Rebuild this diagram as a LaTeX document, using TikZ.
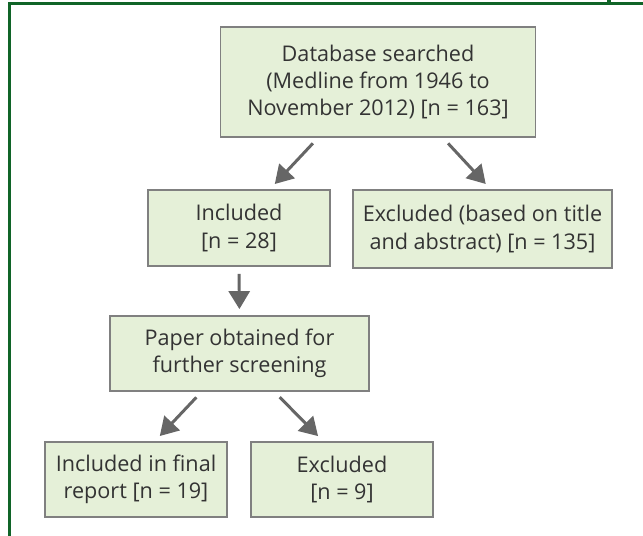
\documentclass[tikz,border=0pt]{standalone}
\usepackage{fontspec}
\setmainfont{Open Sans}
\usetikzlibrary{arrows.meta}
\definecolor{framegreen}{RGB}{16,100,40}
\definecolor{boxfill}{RGB}{229,240,216}

\begin{document}
\begin{tikzpicture}[
  box/.style={draw=black!50, line width=1pt, fill=boxfill, text=black!80, align=center,
    font=\fontsize{12.3}{15.4}\selectfont, inner sep=0pt},
  arr/.style={draw=black!60, line width=1.7pt, -{Triangle[length=0.36cm, width=0.42cm]},
    shorten <=0.15cm, shorten >=0.14cm}
]
\useasboundingbox (0, 0) rectangle (12.86, -10.72);
\draw[framegreen, line width=1.7pt] (0.19, -10.72) -- (0.19, -0.08) -- (12.86, -0.08);
\draw[framegreen, line width=2.4pt] (12.18, 0) -- (12.18, -0.08);

\node[box, minimum width=6.30cm, minimum height=2.20cm] (db) at (7.56, -1.64)
  {Database searched\\(Medline from 1946 to\\November 2012) [n = 163]};
\node[box, minimum width=3.64cm, minimum height=1.52cm] (inc) at (4.78, -4.56)
  {Included\\{}[n = 28]};
\node[box, minimum width=5.18cm, minimum height=1.56cm] (exc) at (9.65, -4.58)
  {Excluded (based on title\\and abstract) [n = 135]};
\node[box, minimum width=5.18cm, minimum height=1.50cm] (paper) at (4.79, -7.07)
  {Paper obtained for\\further screening};
\node[box, minimum width=3.64cm, minimum height=1.50cm] (final) at (2.72, -9.59)
  {Included in final\\report [n = 19]};
\node[box, minimum width=3.64cm, minimum height=1.50cm] (exc2) at (6.84, -9.59)
  {Excluded\\{}[n = 9]};

\draw[arr] ([xshift=-1.2cm]db.south) -- ([xshift=0.62cm]inc.north);
\draw[arr] ([xshift=1.3cm]db.south) -- ([xshift=0.16cm]exc.north);
\draw[arr, shorten <=0.14cm, shorten >=0.12cm] (inc.south) -- (paper.north);
\draw[arr] ([xshift=-0.76cm]paper.south) -- ([xshift=0.38cm]final.north);
\draw[arr] ([xshift=0.7cm]paper.south) -- ([xshift=-0.38cm]exc2.north);
\end{tikzpicture}
\end{document}
